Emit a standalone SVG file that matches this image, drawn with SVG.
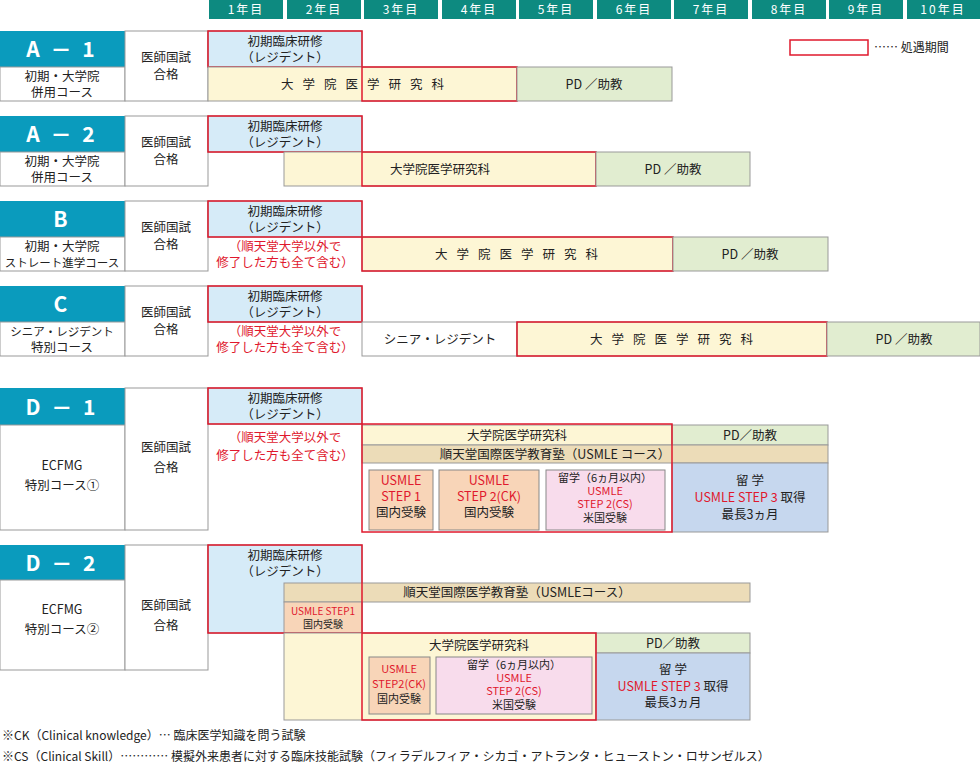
<svg xmlns="http://www.w3.org/2000/svg" width="980" height="763" viewBox="0 0 980 763">
<style>
text{font-family:"Noto Sans CJK JP","Noto Sans",sans-serif;font-size:12.5px;fill:#222;text-anchor:middle}
.hd{fill:#fff;font-size:12px;letter-spacing:2px}
.hb{fill:#0d8a80}
.lb{fill:#0a9bbd}
.big{fill:#fff;font-size:21px;font-weight:bold;letter-spacing:3px}
.w{fill:#fff;stroke:#999;stroke-width:1}
.res{fill:#d6ebf8;stroke:#999}
.gr{fill:#fdf6d5;stroke:#999}
.pd{fill:#e1edd0;stroke:#999}
.jk{fill:#ecdcb8;stroke:#999}
.ru{fill:#c6d7ee;stroke:#999}
.or{fill:#f8d5b8;stroke:#888}
.pk{fill:#f8dcec;stroke:#888}
.red{fill:none;stroke:#e0182d;stroke-width:1.5}
.r{fill:#e0182d}
.s{font-size:11px}
.sp{letter-spacing:9px}
.l{text-anchor:start;font-size:12px}
</style>
<g id="header">
<rect class="hb" x="209" y="0" width="74" height="19"/><text class="hd" x="246" y="14">1年目</text>
<rect class="hb" x="287" y="0" width="74" height="19"/><text class="hd" x="324" y="14">2年目</text>
<rect class="hb" x="364" y="0" width="74" height="19"/><text class="hd" x="401" y="14">3年目</text>
<rect class="hb" x="442" y="0" width="74" height="19"/><text class="hd" x="479" y="14">4年目</text>
<rect class="hb" x="519" y="0" width="74" height="19"/><text class="hd" x="556" y="14">5年目</text>
<rect class="hb" x="597" y="0" width="74" height="19"/><text class="hd" x="634" y="14">6年目</text>
<rect class="hb" x="674" y="0" width="74" height="19"/><text class="hd" x="711" y="14">7年目</text>
<rect class="hb" x="752" y="0" width="74" height="19"/><text class="hd" x="789" y="14">8年目</text>
<rect class="hb" x="829" y="0" width="74" height="19"/><text class="hd" x="866" y="14">9年目</text>
<rect class="hb" x="907" y="0" width="73" height="19"/><text class="hd" x="943" y="14">10年目</text>
</g>
<g id="legend"><rect class="red" x="790" y="40" width="78" height="15"/><text class="l" x="874" y="52">…… 処遇期間</text></g>

<g id="A1">
<rect class="lb" x="0" y="31" width="125" height="36"/><text class="big" x="62" y="57">A － 1</text>
<rect class="w" x="0" y="67" width="125" height="34"/><text x="62" y="81">初期・大学院</text><text x="62" y="97">併用コース</text>
<rect class="w" x="125" y="31" width="83" height="70"/><text x="166" y="62">医師国試</text><text x="166" y="79">合格</text>
<rect class="res" x="208" y="31" width="154" height="36"/><rect class="red" x="208" y="31" width="154" height="36"/>
<text x="285" y="46">初期臨床研修</text><text x="285" y="62">（レジデント）</text>
<rect class="gr" x="208" y="67" width="309" height="34"/><rect class="red" x="362" y="67" width="155" height="34"/>
<text class="sp" x="367" y="89">大学院医学研究科</text>
<rect class="pd" x="517" y="67" width="155" height="34"/><text x="594" y="89">PD ／助教</text>
</g>
<g id="A2">
<rect class="lb" x="0" y="116" width="125" height="36"/><text class="big" x="62" y="142">A － 2</text>
<rect class="w" x="0" y="152" width="125" height="34"/><text x="62" y="166">初期・大学院</text><text x="62" y="182">併用コース</text>
<rect class="w" x="125" y="116" width="83" height="70"/><text x="166" y="147">医師国試</text><text x="166" y="164">合格</text>
<rect class="res" x="208" y="116" width="154" height="36"/><rect class="red" x="208" y="116" width="154" height="36"/>
<text x="285" y="131">初期臨床研修</text><text x="285" y="147">（レジデント）</text>
<rect class="gr" x="284" y="152" width="312" height="34"/><rect class="red" x="362" y="152" width="234" height="34"/>
<text x="440" y="174">大学院医学研究科</text>
<rect class="pd" x="596" y="152" width="154" height="34"/><text x="673" y="174">PD ／助教</text>
</g>
<g id="B">
<rect class="lb" x="0" y="201" width="125" height="36"/><text class="big" x="62" y="227">B</text>
<rect class="w" x="0" y="237" width="125" height="34"/><text x="62" y="251">初期・大学院</text><text x="62" y="267" style="font-size:11.5px">ストレート進学コース</text>
<rect class="w" x="125" y="201" width="83" height="70"/><text x="166" y="232">医師国試</text><text x="166" y="249">合格</text>
<rect class="res" x="208" y="201" width="154" height="36"/><rect class="red" x="208" y="201" width="154" height="36"/>
<text x="285" y="216">初期臨床研修</text><text x="285" y="232">（レジデント）</text>
<text class="r" x="285" y="251">（順天堂大学以外で</text><text class="r" x="285" y="267">修了した方も全て含む）</text>
<rect class="gr" x="362" y="237" width="311" height="34"/><rect class="red" x="362" y="237" width="311" height="34"/>
<text class="sp" x="521" y="259">大学院医学研究科</text>
<rect class="pd" x="673" y="237" width="155" height="34"/><text x="750" y="259">PD ／助教</text>
</g>
<g id="C">
<rect class="lb" x="0" y="286" width="125" height="36"/><text class="big" x="62" y="312">C</text>
<rect class="w" x="0" y="322" width="125" height="34"/><text x="62" y="336" style="font-size:11.5px">シニア・レジデント</text><text x="62" y="352">特別コース</text>
<rect class="w" x="125" y="286" width="83" height="70"/><text x="166" y="317">医師国試</text><text x="166" y="334">合格</text>
<rect class="res" x="208" y="286" width="154" height="36"/><rect class="red" x="208" y="286" width="154" height="36"/>
<text x="285" y="301">初期臨床研修</text><text x="285" y="317">（レジデント）</text>
<text class="r" x="285" y="336">（順天堂大学以外で</text><text class="r" x="285" y="352">修了した方も全て含む）</text>
<rect class="w" x="362" y="322" width="155" height="34"/><text x="440" y="344">シニア・レジデント</text>
<rect class="gr" x="517" y="322" width="310" height="34"/><rect class="red" x="517" y="322" width="310" height="34"/>
<text class="sp" x="676" y="344">大学院医学研究科</text>
<rect class="pd" x="827" y="322" width="153" height="34"/><text x="904" y="344">PD ／助教</text>
</g>
<g id="D1">
<rect class="lb" x="0" y="388" width="125" height="37"/><text class="big" x="62" y="415">D － 1</text>
<rect class="w" x="0" y="425" width="125" height="105"/><text x="62" y="470">ECFMG</text><text x="62" y="490">特別コース①</text>
<rect class="w" x="125" y="388" width="83" height="142"/><text x="166" y="452">医師国試</text><text x="166" y="472">合格</text>
<rect class="res" x="208" y="388" width="154" height="36"/><rect class="red" x="208" y="388" width="154" height="36"/>
<text x="285" y="403">初期臨床研修</text><text x="285" y="419">（レジデント）</text>
<text class="r" x="285" y="442">（順天堂大学以外で</text><text class="r" x="285" y="460">修了した方も全て含む）</text>
<rect class="gr" x="362" y="425" width="310" height="20"/><text x="517" y="440">大学院医学研究科</text>
<rect class="pd" x="672" y="425" width="156" height="20"/><text x="750" y="440">PD／助教</text>
<rect class="jk" x="362" y="445" width="466" height="18"/><text x="555" y="459">順天堂国際医学教育塾（USMLE コース）</text>
<rect class="ru" x="672" y="463" width="156" height="69"/>
<text x="750" y="485">留 学</text><text x="750" y="502"><tspan class="r">USMLE STEP 3</tspan> 取得</text><text x="750" y="519">最長3ヵ月</text>
<rect class="or" x="369" y="470" width="64" height="60"/><text class="r" x="401" y="485">USMLE</text><text class="r" x="401" y="501">STEP 1</text><text x="401" y="517">国内受験</text>
<rect class="or" x="439" y="470" width="100" height="60"/><text class="r" x="489" y="485">USMLE</text><text class="r" x="489" y="501">STEP 2(CK)</text><text x="489" y="517">国内受験</text>
<rect class="pk" x="546" y="470" width="119" height="60"/><text class="s" x="605" y="482">留学（6ヵ月以内）</text><text class="r s" x="605" y="495">USMLE</text><text class="r s" x="605" y="508">STEP 2(CS)</text><text class="s" x="605" y="522">米国受験</text>
<rect class="red" x="362" y="424" width="310" height="108"/>
</g>
<g id="D2">
<rect class="lb" x="0" y="545" width="125" height="35"/><text class="big" x="62" y="571">D － 2</text>
<rect class="w" x="0" y="580" width="125" height="90"/><text x="62" y="614">ECFMG</text><text x="62" y="634">特別コース②</text>
<rect class="w" x="125" y="545" width="83" height="125"/><text x="166" y="610">医師国試</text><text x="166" y="630">合格</text>
<rect class="res" x="208" y="545" width="154" height="88"/>
<text x="285" y="560">初期臨床研修</text><text x="285" y="576">（レジデント）</text>
<rect class="jk" x="284" y="583" width="466" height="19"/><text x="517" y="597">順天堂国際医学教育塾（USMLEコース）</text>
<rect class="or" x="284" y="602" width="78" height="31" style="stroke:#999"/><text class="r" x="323" y="615" style="font-size:10px">USMLE STEP1</text><text x="323" y="628" style="font-size:10px">国内受験</text>
<rect class="red" x="208" y="545" width="154" height="88"/>
<rect class="gr" x="284" y="633" width="312" height="87"/>
<text x="479" y="650">大学院医学研究科</text>
<rect class="pd" x="596" y="633" width="154" height="20"/><text x="673" y="648">PD／助教</text>
<rect class="ru" x="596" y="653" width="154" height="67"/>
<text x="673" y="674">留 学</text><text x="673" y="691"><tspan class="r">USMLE STEP 3</tspan> 取得</text><text x="673" y="707">最長3ヵ月</text>
<rect class="or" x="369" y="657" width="61" height="57"/><text class="r s" x="399" y="673">USMLE</text><text class="r s" x="399" y="688">STEP2(CK)</text><text class="s" x="399" y="703">国内受験</text>
<rect class="pk" x="436" y="657" width="156" height="57"/><text class="s" x="514" y="669">留学（6ヵ月以内）</text><text class="r s" x="514" y="682">USMLE</text><text class="r s" x="514" y="695">STEP 2(CS)</text><text class="s" x="514" y="709">米国受験</text>
<rect class="red" x="362" y="633" width="234" height="87"/>
</g>
<g id="notes">
<text class="l" x="2" y="740">※CK（Clinical knowledge）…  臨床医学知識を問う試験</text>
<text class="l" x="2" y="761">※CS（Clinical Skill）…………  模擬外来患者に対する臨床技能試験（フィラデルフィア・シカゴ・アトランタ・ヒューストン・ロサンゼルス）</text>
</g>
<g id="connectors"/>
</svg>
